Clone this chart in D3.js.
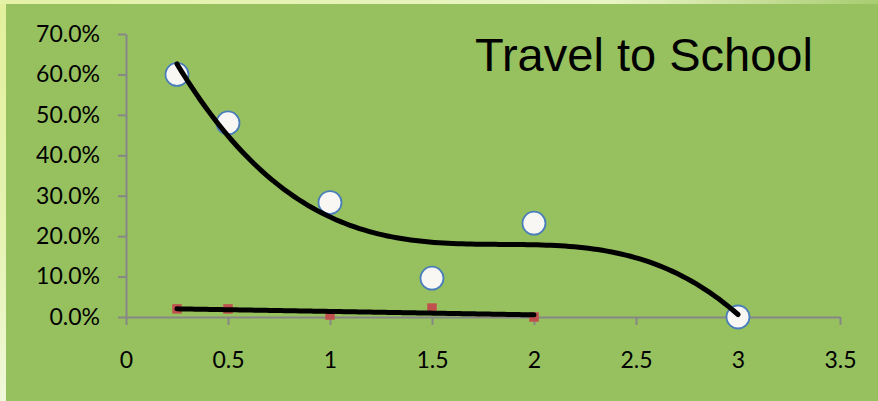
<!DOCTYPE html>
<html>
<head>
<meta charset="utf-8">
<script src="https://cdn.jsdelivr.net/npm/d3@7"></script>
<style>
  html, body { margin: 0; padding: 0; background: #eef6d2; }
  svg { display: block; }
</style>
</head>
<body>
<svg id="chart" width="878" height="401"></svg>
<script>
// Distance bands (x) and share of pupils for each band
const distances = [0.25, 0.5, 1, 1.5, 2, 3];
const circleShare = [0.60, 0.48, 0.283, 0.096, 0.232, 0.0];
const squareDistances = [0.25, 0.5, 1, 1.5, 2];
const squareShare = [0.02, 0.02, 0.005, 0.022, 0.0];
const xTicks = [0, 0.5, 1, 1.5, 2, 2.5, 3, 3.5];
const yTicks = [0, 0.1, 0.2, 0.3, 0.4, 0.5, 0.6, 0.7];
const titleText = "Travel to School";

const W = 878, H = 401;
const svg = d3.select("#chart");

// Background: pale frame glow with the green chart area
const defs = svg.append("defs");
const lg = defs.append("linearGradient").attr("id", "leftGlow")
  .attr("x1", 0).attr("y1", 0).attr("x2", 0).attr("y2", 1);
lg.append("stop").attr("offset", "0%").attr("stop-color", "#e2f09c");
lg.append("stop").attr("offset", "60%").attr("stop-color", "#e6f3b4");
lg.append("stop").attr("offset", "100%").attr("stop-color", "#f0f8da");
const tg = defs.append("linearGradient").attr("id", "topGlow")
  .attr("x1", 0).attr("y1", 0).attr("x2", 1).attr("y2", 0);
tg.append("stop").attr("offset", "0%").attr("stop-color", "#e4f1a6");
tg.append("stop").attr("offset", "70%").attr("stop-color", "#e8f4c4");
tg.append("stop").attr("offset", "100%").attr("stop-color", "#a9cd72");

svg.append("rect").attr("x", 0).attr("y", 0).attr("width", W).attr("height", H).attr("fill", "url(#leftGlow)");
svg.append("rect").attr("x", 0).attr("y", 0).attr("width", W).attr("height", 4).attr("fill", "url(#topGlow)");
svg.append("rect").attr("x", 6).attr("y", 4).attr("width", W - 6).attr("height", H - 4).attr("fill", "#97c15f");

// Scales
const x = d3.scaleLinear().domain([0, 3.5]).range([126, 840]);
const y = d3.scaleLinear().domain([0, 0.7]).range([317, 34]);

const axisColor = "#878787";
const labelFont = "Lato, 'Open Sans', sans-serif";

// Y axis
const yAxis = svg.append("g").attr("transform", `translate(${x(0)},0)`)
  .call(d3.axisLeft(y).tickValues(yTicks).tickFormat(d3.format(".1%"))
    .tickSize(8).tickSizeOuter(0).tickPadding(18));
// X axis
const xAxis = svg.append("g").attr("transform", `translate(0,${y(0)})`)
  .call(d3.axisBottom(x).tickValues(xTicks).tickFormat(d => String(d))
    .tickSize(8).tickSizeOuter(0).tickPadding(26));

[yAxis, xAxis].forEach(g => {
  g.select(".domain").attr("stroke", axisColor).attr("stroke-width", 2);
  g.selectAll(".tick line").attr("stroke", axisColor).attr("stroke-width", 2);
  g.selectAll(".tick text").attr("fill", "#000").style("font-family", labelFont).style("font-size", "23px");
});
xAxis.selectAll(".tick text").attr("dy", "0.35em").attr("y", 43);

// Least-squares polynomial fit (normal equations + Gaussian elimination)
function polyFit(xs, ys, order) {
  const n = order + 1;
  const A = Array.from({length: n}, () => new Array(n + 1).fill(0));
  for (let r = 0; r < n; r++) {
    for (let c = 0; c < n; c++) A[r][c] = d3.sum(xs, v => Math.pow(v, r + c));
    A[r][n] = d3.sum(xs, (v, i) => ys[i] * Math.pow(v, r));
  }
  for (let i = 0; i < n; i++) {
    let p = i;
    for (let k = i + 1; k < n; k++) if (Math.abs(A[k][i]) > Math.abs(A[p][i])) p = k;
    [A[i], A[p]] = [A[p], A[i]];
    for (let k = i + 1; k < n; k++) {
      const f = A[k][i] / A[i][i];
      for (let c = i; c <= n; c++) A[k][c] -= f * A[i][c];
    }
  }
  const coef = new Array(n).fill(0);
  for (let i = n - 1; i >= 0; i--) {
    let s = A[i][n];
    for (let c = i + 1; c < n; c++) s -= A[i][c] * coef[c];
    coef[i] = s / A[i][i];
  }
  return v => coef.reduce((acc, a, k) => acc + a * Math.pow(v, k), 0);
}

function trendPoints(xs, ys, order) {
  const f = polyFit(xs, ys, order);
  const [lo, hi] = d3.extent(xs);
  return d3.range(0, 121).map(i => {
    const v = lo + (hi - lo) * i / 120;
    return [v, f(v)];
  });
}

const line = d3.line().x(d => x(d[0])).y(d => y(d[1]));

// Markers
svg.append("g").selectAll("rect")
  .data(squareDistances.map((d, i) => [d, squareShare[i]]))
  .join("rect")
  .attr("x", d => x(d[0]) - 4.75).attr("y", d => y(d[1]) - 4.75)
  .attr("width", 9.5).attr("height", 9.5)
  .attr("fill", "#c0504d");

svg.append("g").selectAll("circle")
  .data(distances.map((d, i) => [d, circleShare[i]]))
  .join("circle")
  .attr("cx", d => x(d[0])).attr("cy", d => y(d[1]))
  .attr("r", 11.5)
  .attr("fill", "#f8f7f4")
  .attr("stroke", "#4a7ebb").attr("stroke-width", 1.8);

// Trend lines
svg.append("path").datum(trendPoints(distances, circleShare, 3))
  .attr("d", line).attr("fill", "none").attr("stroke", "#000")
  .attr("stroke-width", 5).attr("stroke-linecap", "round");
svg.append("path").datum(trendPoints(squareDistances, squareShare, 1))
  .attr("d", line).attr("fill", "none").attr("stroke", "#000")
  .attr("stroke-width", 5).attr("stroke-linecap", "round");

// Title
svg.append("text").attr("x", 475).attr("y", 70.5)
  .style("font-family", "'Liberation Sans', Arial, sans-serif")
  .style("font-size", "47px").attr("fill", "#000")
  .text(titleText);
</script>
</body>
</html>
